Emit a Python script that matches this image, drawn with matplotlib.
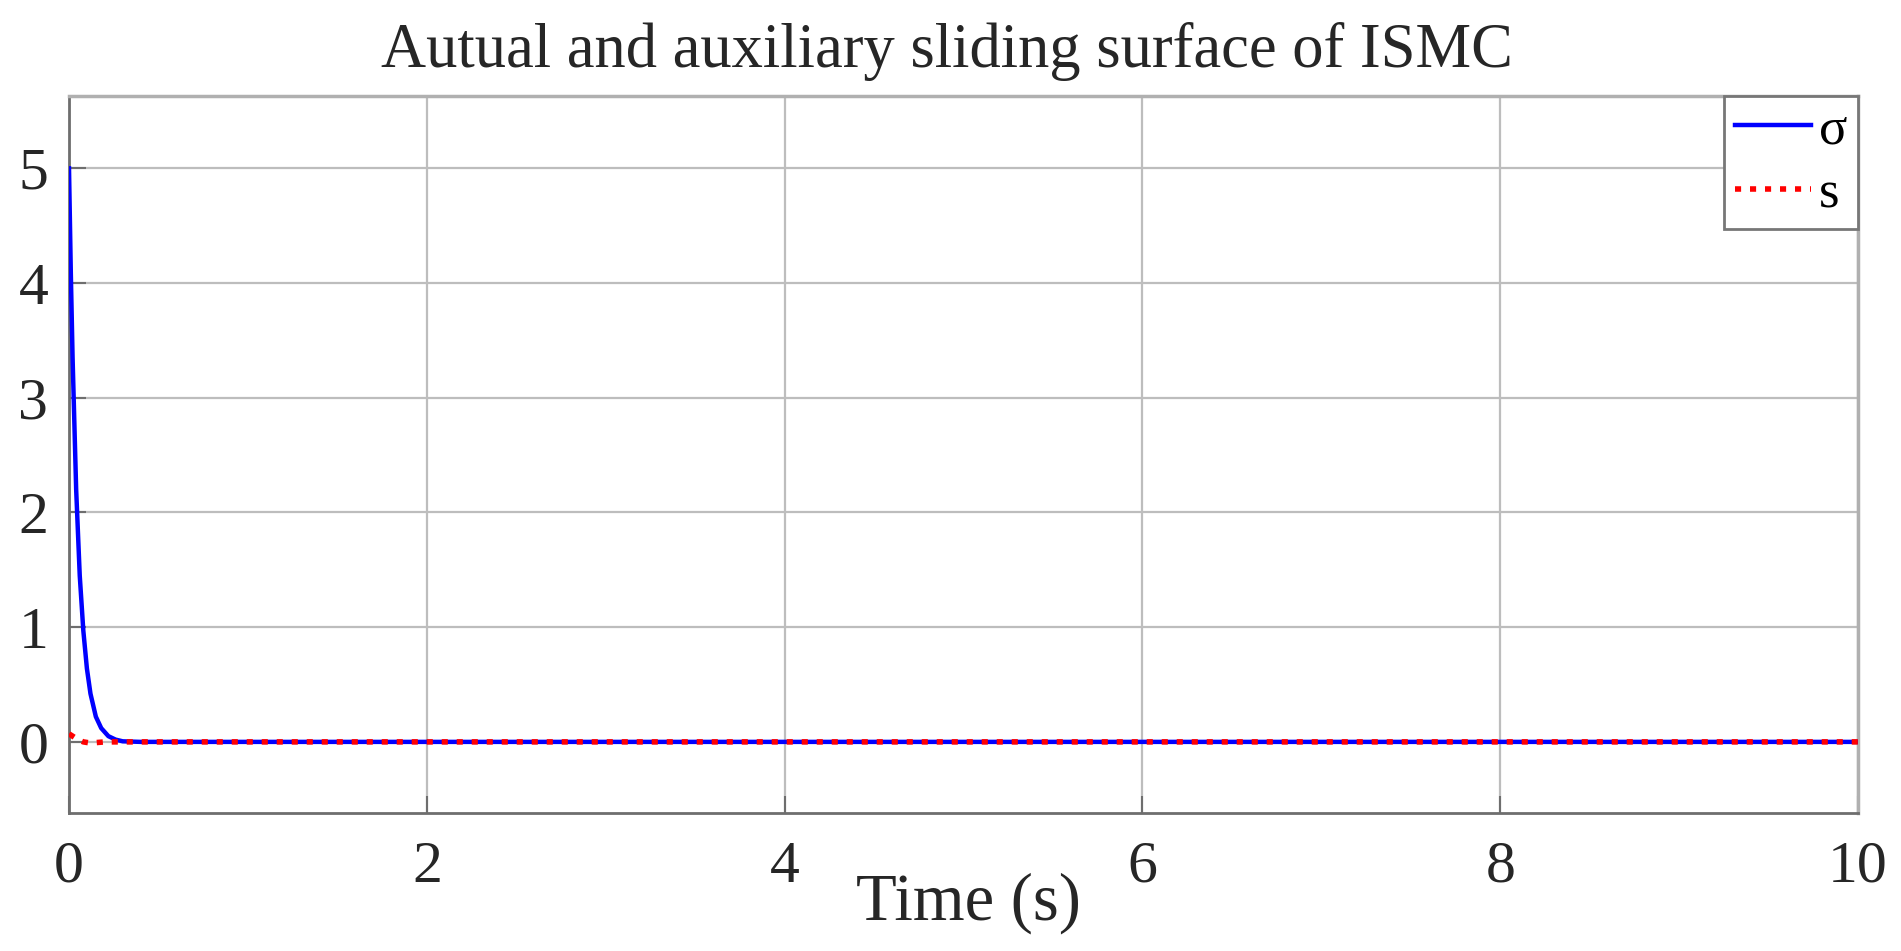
import numpy as np
import matplotlib.pyplot as plt

# values
t_sigma = [0, 0.01, 0.02, 0.04, 0.06, 0.08, 0.10, 0.12, 0.15, 0.18, 0.22, 0.26, 0.30, 0.40, 10]
sigma = [5.0, 4.1, 3.35, 2.2, 1.45, 0.97, 0.64, 0.42, 0.22, 0.12, 0.05, 0.02, 0.005, 0.0, 0.0]
t_s = [0, 0.02, 0.05, 0.08, 0.12, 0.20, 10]
s = [0.07, 0.05, 0.02, 0.0, -0.01, 0.0, 0.0]

x_ticks = [0, 2, 4, 6, 8, 10]
y_ticks = [0, 1, 2, 3, 4, 5]

plt.rcParams['font.family'] = ['Liberation Serif', 'DejaVu Serif']

fig = plt.figure(figsize=(19.01, 9.51), dpi=100)
ax = fig.add_axes([0.0363, 0.1451, 0.9411, 0.7539])

ax.plot(t_sigma, sigma, color='#0000ff', lw=3.2, label='σ', zorder=3)
ax.plot(t_s, s, color='#ff0000', lw=4, linestyle=(0, (1.1, 1.6)), label='s', zorder=4)

ax.set_xlim(0, 10)
ax.set_ylim(-0.62, 5.63)
ax.set_xticks(x_ticks)
ax.set_yticks(y_ticks)
ax.grid(True, color='#bdbdbd', lw=1.6)
ax.set_axisbelow(True)

for side in ['left', 'bottom']:
    ax.spines[side].set_color('#6e6e6e')
    ax.spines[side].set_linewidth(2)
for side in ['top', 'right']:
    ax.spines[side].set_color('#b0b0b0')
    ax.spines[side].set_linewidth(2.5)

ax.tick_params(direction='in', length=12, width=1.5, color='#6e6e6e',
               labelsize=43, labelcolor='#262626')
ax.tick_params(axis='y', pad=15)
ax.tick_params(axis='x', pad=20)

ax.set_xlabel('Time (s)', fontsize=48, color='#262626')
ax.xaxis.label.set_va('baseline')
ax.xaxis.set_label_coords(0.5025, -0.149)

fig.text(947 / 1901, (951 - 67) / 951, 'Autual and auxiliary sliding surface of ISMC',
         ha='center', va='baseline', fontsize=45, color='#262626')

leg = ax.legend(loc='upper right', fontsize=38, borderaxespad=0, fancybox=False,
                framealpha=1, edgecolor='#777777', handlelength=1.45,
                handletextpad=0.15, labelspacing=0.3, borderpad=0.2)
leg.get_frame().set_linewidth(2)

plt.savefig('out.png', dpi=100)
